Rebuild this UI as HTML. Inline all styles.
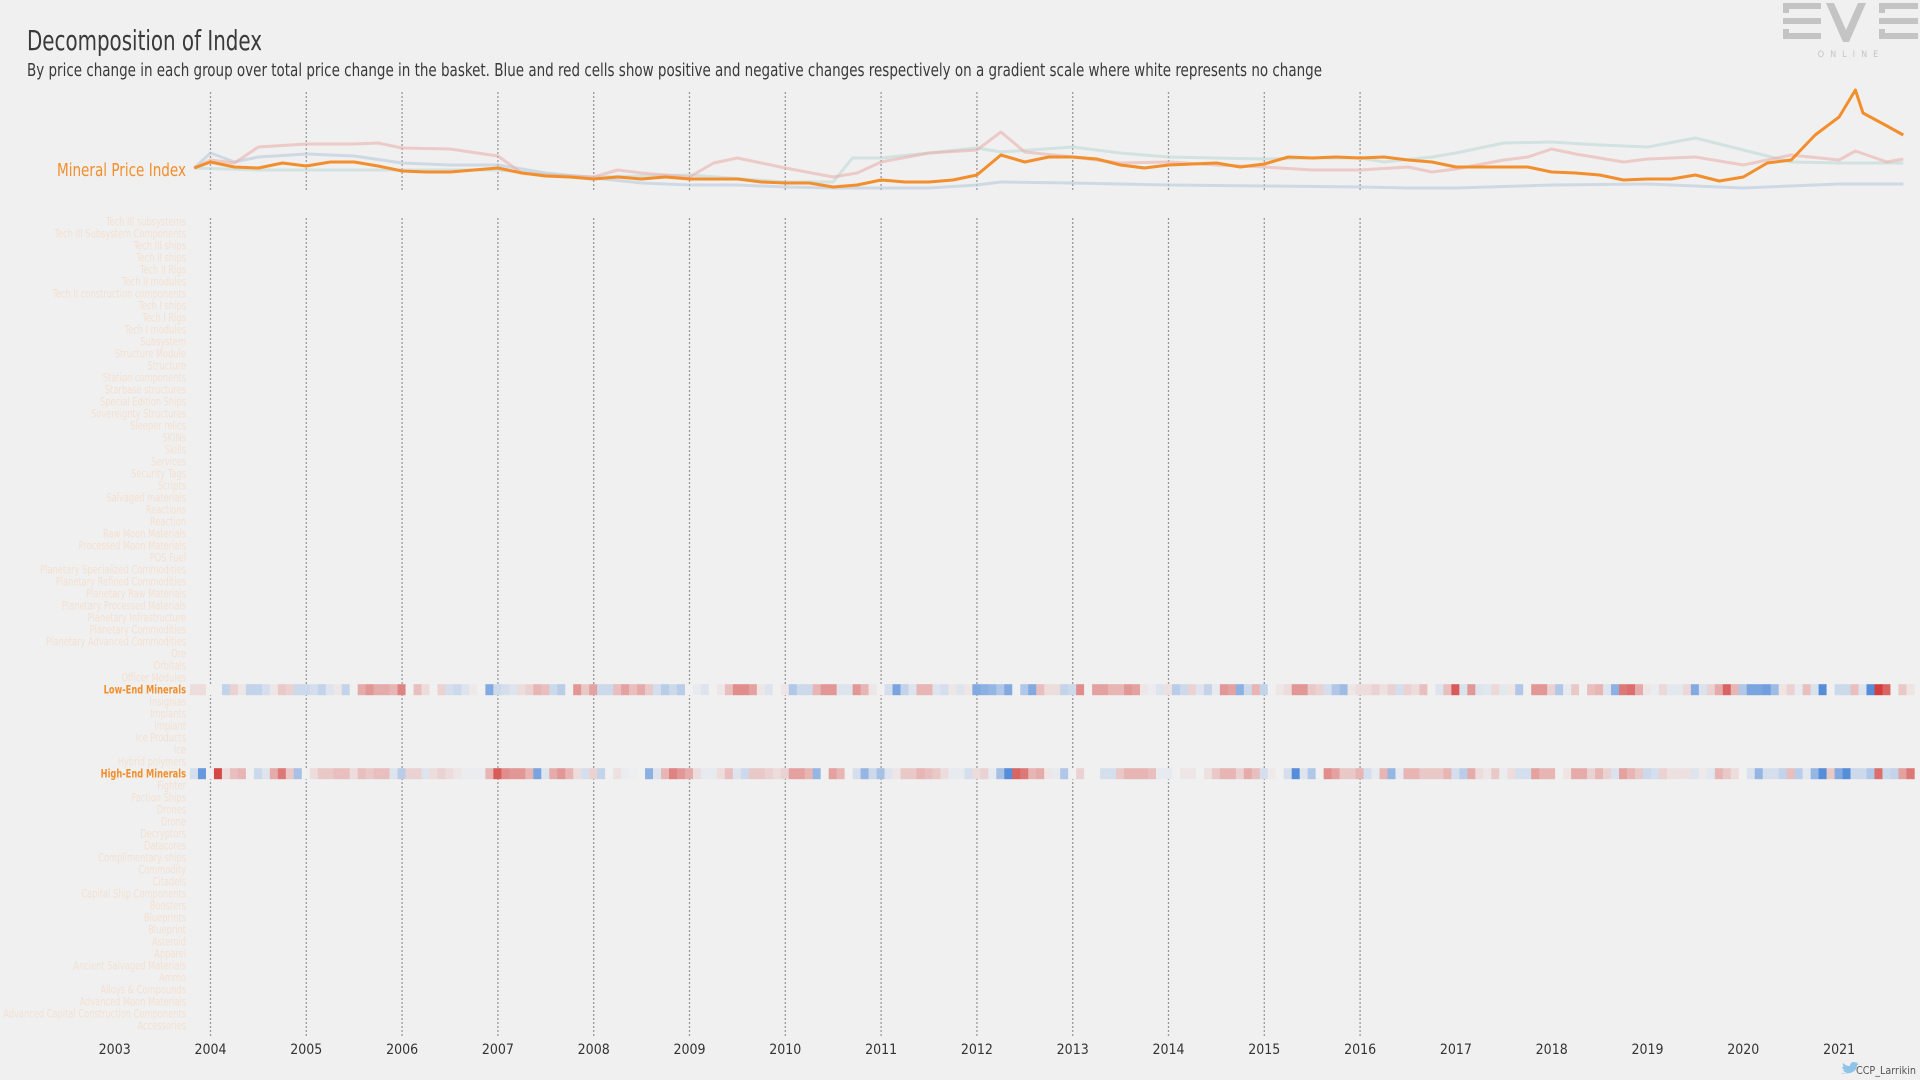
<!DOCTYPE html>
<html><head><meta charset="utf-8"><style>
html,body{margin:0;padding:0;background:#f0f0f0;}
svg{display:block;font-family:"Liberation Sans Narrow","DejaVu Sans Condensed","Liberation Sans",sans-serif;}
</style></head><body>
<svg id="chart" width="1920" height="1080" viewBox="0 0 1920 1080" xmlns="http://www.w3.org/2000/svg">
<rect width="1920" height="1080" fill="#f0f0f0"/>
<text x="27" y="50" font-size="28" fill="#3a3a3a" textLength="235" lengthAdjust="spacingAndGlyphs">Decomposition of Index</text>
<text x="27" y="76" font-size="18" fill="#3a3a3a" textLength="1295" lengthAdjust="spacingAndGlyphs">By price change in each group over total price change in the basket. Blue and red cells show positive and negative changes respectively on a gradient scale where white represents no change</text>
<g fill="#c4c4c4">
<rect x="1783" y="3" width="38" height="6"/><rect x="1783" y="3" width="6" height="10"/><rect x="1783" y="18" width="38" height="6"/><rect x="1783" y="29" width="6" height="10"/><rect x="1783" y="33" width="38" height="6"/>
<polygon points="1826,3 1834,3 1846,30 1858,3 1866,3 1849,42 1843,42"/>
<rect x="1879" y="3" width="39" height="6"/><rect x="1879" y="3" width="6" height="10"/><rect x="1879" y="18" width="39" height="6"/><rect x="1879" y="29" width="6" height="10"/><rect x="1879" y="33" width="39" height="6"/>
<text x="1851" y="57" font-size="9" fill="#c4c4c4" text-anchor="middle" letter-spacing="6">ONLINE</text>
</g>
<g id="grid"></g>
<g id="lines"></g>
<g id="labels"></g>
<g id="heat"></g>
<g id="years"></g>
<g>
<path d="M1841 1073 q3 2 6 0 q-3 -1 -4 -3 q1 0 2 0 q-3 -1 -3 -3 q1 0 2 0 q-2 -2 -1 -4 q3 3 7 3 q0 -4 4 -4 q2 0 2 1 l2 -1 l-1 2 l2 0 l-2 1 q0 6 -7 8 q-4 1 -9 0z" fill="#8fc3e8"/>
<text x="1916" y="1074" font-size="11" fill="#555" text-anchor="end" textLength="60" lengthAdjust="spacingAndGlyphs">CCP_Larrikin</text>
</g>
</svg>
<script>
// ---- data ----
const yearTicks = [2003,2004,2005,2006,2007,2008,2009,2010,2011,2012,2013,2014,2015,2016,2017,2018,2019,2020,2021];
const gridYears = [2004,2005,2006,2007,2008,2009,2010,2011,2012,2013,2014,2015,2016];
const orangeDates = [2003.83,2004,2004.25,2004.5,2004.75,2005,2005.25,2005.5,2005.75,2006,2006.25,2006.5,2006.75,2007,2007.25,2007.5,2007.75,2008,2008.25,2008.5,2008.75,2009,2009.25,2009.5,2009.75,2010,2010.25,2010.5,2010.75,2011,2011.25,2011.5,2011.75,2012,2012.25,2012.5,2012.75,2013,2013.25,2013.5,2013.75,2014,2014.25,2014.5,2014.75,2015,2015.25,2015.5,2015.75,2016,2016.25,2016.5,2016.75,2017,2017.25,2017.5,2017.75,2018,2018.25,2018.5,2018.75,2019,2019.25,2019.5,2019.75,2020,2020.25,2020.5,2020.75,2021,2021.17,2021.25,2021.5,2021.67];
const orangeValues = [102,108,103,102,107,104,108,108,104,99,98,98,100,102,97,94,93,91,93,91,93,91,91,91,88,87,87,83,85,90,88,88,90,95,115,108,113,113,111,105,102,105,106,107,103,106,113,112,113,112,113,110,108,103,103,103,103,98,97,95,90,91,91,95,89,93,107,110,135,153,180,157,144,135];
const blueDates = [2003.83,2004,2004.25,2004.5,2005,2005.5,2006,2006.5,2007,2007.5,2008,2008.5,2009,2009.5,2010,2010.5,2011,2011.5,2012,2012.25,2013,2014,2015,2016,2016.5,2017,2018,2019,2019.5,2020,2021,2021.67];
const blueValues = [102,117,108,113,116,114,107,105,105,97,92,87,85,85,83,82,82,82,85,88,87,85,84,83,82,82,85,86,84,82,86,86];
const tealDates = [2003.83,2004.5,2005,2006,2007,2007.5,2008,2009,2010,2010.5,2010.7,2011,2011.5,2012,2012.25,2013,2013.5,2014,2015,2015.5,2016,2016.25,2016.75,2017,2017.5,2018,2018.5,2019,2019.5,2020,2020.5,2021,2021.67];
const tealValues = [102,100,100,100,100,96,93,95,88,88,112,112,117,122,118,123,117,113,111,112,112,108,113,117,127,128,125,123,132,120,108,107,107];
const pinkDates = [2003.83,2004,2004.25,2004.5,2005,2005.5,2005.75,2006,2006.5,2007,2007.25,2007.5,2008,2008.25,2008.5,2009,2009.25,2009.5,2010,2010.5,2010.75,2011,2011.5,2012,2012.25,2012.5,2013,2013.5,2014,2014.5,2015,2015.5,2016,2016.5,2016.75,2017,2017.5,2017.75,2018,2018.25,2018.75,2019,2019.5,2020,2020.5,2021,2021.17,2021.5,2021.67];
const pinkValues = [102,110,107,123,126,126,127,122,121,114,97,95,93,100,97,93,107,112,102,93,97,108,117,120,138,118,113,107,108,105,103,100,100,103,98,101,110,113,121,116,108,111,113,105,115,110,119,108,111];
const rowLabels = ["Tech III subsystems","Tech III Subsystem Components","Tech III ships","Tech II ships","Tech II Rigs","Tech II modules","Tech II construction components","Tech I ships","Tech I Rigs","Tech I modules","Subsystem","Structure Module","Structure","Station components","Starbase structures","Special Edition Ships","Sovereignty Structures","Sleeper relics","SKINs","Skills","Services","Security Tags","Scripts","Salvaged materials","Reactions","Reaction","Raw Moon Materials","Processed Moon Materials","POS Fuel","Planetary Specialized Commodities","Planetary Refined Commodities","Planetary Raw Materials","Planetary Processed Materials","Planetary Infrastructure","Planetary Commodities","Planetary Advanced Commodities","Ore","Orbitals","Officer Modules","Low-End Minerals","Insignias","Implants","Implant","Ice Products","Ice","Hybrid polymers","High-End Minerals","Fighter","Faction Ships","Drones","Drone","Decryptors","Datacores","Complimentary ships","Commodity","Citadels","Capital Ship Components","Boosters","Blueprints","Blueprint","Asteroid","Apparel","Ancient Salvaged Materials","Ammo","Alloys & Compounds","Advanced Moon Materials","Advanced Capital Construction Components","Accessories"];
const heatStart = 2003.786;
const lowEndChanges = [-.1,-.1,0,0,.25,-.15,-.05,.25,.25,.15,-.05,-.2,-.15,.2,.2,.15,.25,.1,-.05,.25,0,-.35,-.45,-.35,-.35,-.3,-.55,0,-.25,-.1,0,-.15,.15,.2,.1,-.03,0,.6,.2,.15,.1,-.1,-.15,-.3,-.25,.2,.3,0,-.45,-.2,-.4,.2,.2,-.25,-.4,-.25,-.35,-.2,.15,.3,.2,.3,0,.05,.1,0,-.05,-.25,-.5,-.5,-.4,-.05,.1,0,-.05,
.35,.2,.2,-.3,-.45,-.45,.1,.1,-.45,-.3,-.05,0,.15,.65,.25,.1,-.3,-.3,.1,.15,-.05,.1,-.05,.6,.55,.5,.35,.6,0,.35,.6,-.25,-.1,-.1,.25,.2,-.5,0,-.4,-.4,-.3,-.3,-.45,-.4,-.05,.03,.1,-.08,.3,.2,-.15,.1,.25,.05,-.45,-.4,.55,.2,-.3,.25,0,-.05,-.1,-.45,-.45,-.2,-.15,.15,.35,.45,-.05,
-.1,-.1,-.15,-.08,-.15,.15,-.15,-.1,-.25,0,.1,-.25,-.75,.12,-.45,.1,.08,-.12,.07,-.05,.35,0,-.45,-.45,-.15,.35,.05,-.2,0,-.25,-.3,.1,.55,-.6,-.65,-.35,-.05,.03,-.12,.07,.07,-.12,.6,.12,-.15,-.35,-.7,-.3,.35,.65,.65,.7,.45,-.06,-.15,.05,-.25,.12,.85,0,.2,.2,-.25,.1,.85,-.9,-.7,0,-.2,-.06];
const highEndChanges = [.15,.75,0,-.85,-.1,-.25,-.3,0,.2,.1,-.35,-.6,-.2,.4,0,-.1,-.2,-.2,-.25,-.25,-.1,-.25,-.2,-.25,-.25,.1,.3,-.15,-.15,.1,-.1,-.15,-.1,-.05,.03,.03,.03,-.3,-.75,-.5,-.45,-.45,-.3,.65,.1,-.35,-.45,-.3,-.1,.15,-.15,.25,0,-.08,.03,.02,0,.55,.1,-.3,-.55,-.45,-.35,-.1,.05,.05,-.1,-.25,.1,.2,-.2,-.2,-.15,-.1,-.15,
-.4,-.4,-.3,.5,0,-.4,-.3,0,.15,.5,.2,.4,.1,-.05,-.2,-.2,-.3,-.25,-.2,-.1,.05,.05,.15,-.1,-.15,.05,.4,.85,-.7,-.6,-.3,-.35,-.05,.05,.35,0,-.15,0,0,.15,.15,-.2,-.3,-.3,-.3,-.25,.05,.05,0,-.05,-.05,0,-.08,-.2,-.3,-.3,-.15,-.35,-.25,.15,-.03,0,.15,.85,.1,.35,0,-.5,-.4,-.2,-.2,
-.3,.15,.05,-.3,.5,.05,-.3,-.3,-.2,-.2,-.2,-.3,.15,.3,-.35,-.1,-.05,-.2,.03,-.1,.15,.15,-.4,-.3,-.3,0,-.06,-.35,-.35,-.15,-.3,-.15,.12,-.4,-.3,-.2,.2,.15,-.15,-.08,-.08,-.08,.1,-.04,.08,-.3,-.2,-.1,0,.12,.5,.15,.15,.25,-.25,.3,.07,.5,.85,-.2,.6,.85,.2,.2,.35,-.65,.2,.25,-.4,-.6];

// ---- scales ----
const NS='http://www.w3.org/2000/svg';
const X0=210.5, PX_PER_YEAR=95.8;
function xScale(yr){return X0+(yr-2004)*PX_PER_YEAR;}
function yLine(v){return 270-v;}
const ROW0=221.7, ROW_H=12;
function yRow(i){return ROW0+i*ROW_H;}
function mk(tag,attrs,parent){const e=document.createElementNS(NS,tag);for(const k in attrs)e.setAttribute(k,attrs[k]);parent.appendChild(e);return e;}
function colorFor(v){
  const bg=[240,240,240], blue=[58,123,213], red=[207,42,39];
  const t=Math.min(1,Math.abs(v)); const c=v>=0?blue:red;
  const m=bg.map((b,i)=>Math.round(b+(c[i]-b)*t));
  return 'rgb('+m.join(',')+')';
}
// grid
const grid=document.getElementById('grid');
gridYears.forEach(yr=>{
  const l1=mk('line',{x1:xScale(yr),x2:xScale(yr),y1:92,y2:190,stroke:'#9a9a9a','stroke-width':1.3,'stroke-dasharray':'2,2'},grid);
  
  
  const l2=mk('line',{x1:xScale(yr),x2:xScale(yr),y1:218,y2:1036,stroke:'#9a9a9a','stroke-width':1.3,'stroke-dasharray':'2,2'},grid);
  
  
});
// lines
const lines=document.getElementById('lines');
function drawSeries(dates,vals,color,w,op,name){
  const d=dates.map((t,i)=>(i?'L':'M')+xScale(t).toFixed(1)+' '+yLine(vals[i]).toFixed(1)).join(' ');
  const p=mk('path',{d:d,fill:'none',stroke:color,'stroke-width':w,'stroke-opacity':op,'stroke-linejoin':'round'},lines);
  
  
}
drawSeries(blueDates,blueValues,'#b9c9dc',3,0.6,'high-end-minerals-line');
drawSeries(tealDates,tealValues,'#bcd9d5',3,0.6,'low-end-minerals-line');
drawSeries(pinkDates,pinkValues,'#eab0ae',3,0.6,'other-group-line');
drawSeries(orangeDates,orangeValues,'#f28e2b',3,1,'mineral-price-index-line');
const mpi=mk('text',{x:186,y:176,'font-size':18,fill:'#f28e2b','text-anchor':'end',textLength:129,lengthAdjust:'spacingAndGlyphs'},lines);
mpi.textContent='Mineral Price Index';


// row labels
const labels=document.getElementById('labels');
rowLabels.forEach((s,i)=>{
  const hi=(s==='Low-End Minerals'||s==='High-End Minerals');
  const t=mk('text',{x:0,y:0,transform:'translate(186,'+(yRow(i)+4)+') scale(0.8,1)','font-size':11.5,fill:hi?'#f28e2b':'#f3e0d1','text-anchor':'end','font-weight':hi?'bold':'normal'},labels);
  t.textContent=s;
  
  
});
// heatmap
const heat=document.getElementById('heat');
const CW=PX_PER_YEAR/12;
function drawRow(vals,rowName,name){
  const ri=rowLabels.indexOf(rowName);
  vals.forEach((v,i)=>{
    const x=xScale(heatStart+i/12);
    const r=mk('rect',{x:x.toFixed(2),y:(yRow(ri)-5.5).toFixed(1),width:(CW+0.3).toFixed(2),height:11,fill:colorFor(v)},heat);
    
    
  });
}
drawRow(lowEndChanges,'Low-End Minerals','low-end-minerals');
drawRow(highEndChanges,'High-End Minerals','high-end-minerals');
// year axis
const years=document.getElementById('years');
yearTicks.forEach(yr=>{
  const t=mk('text',{x:xScale(yr),y:1054,'font-size':14,fill:'#333','text-anchor':'middle'},years);
  t.textContent=yr;
  
  
});
</script>
</body></html>
